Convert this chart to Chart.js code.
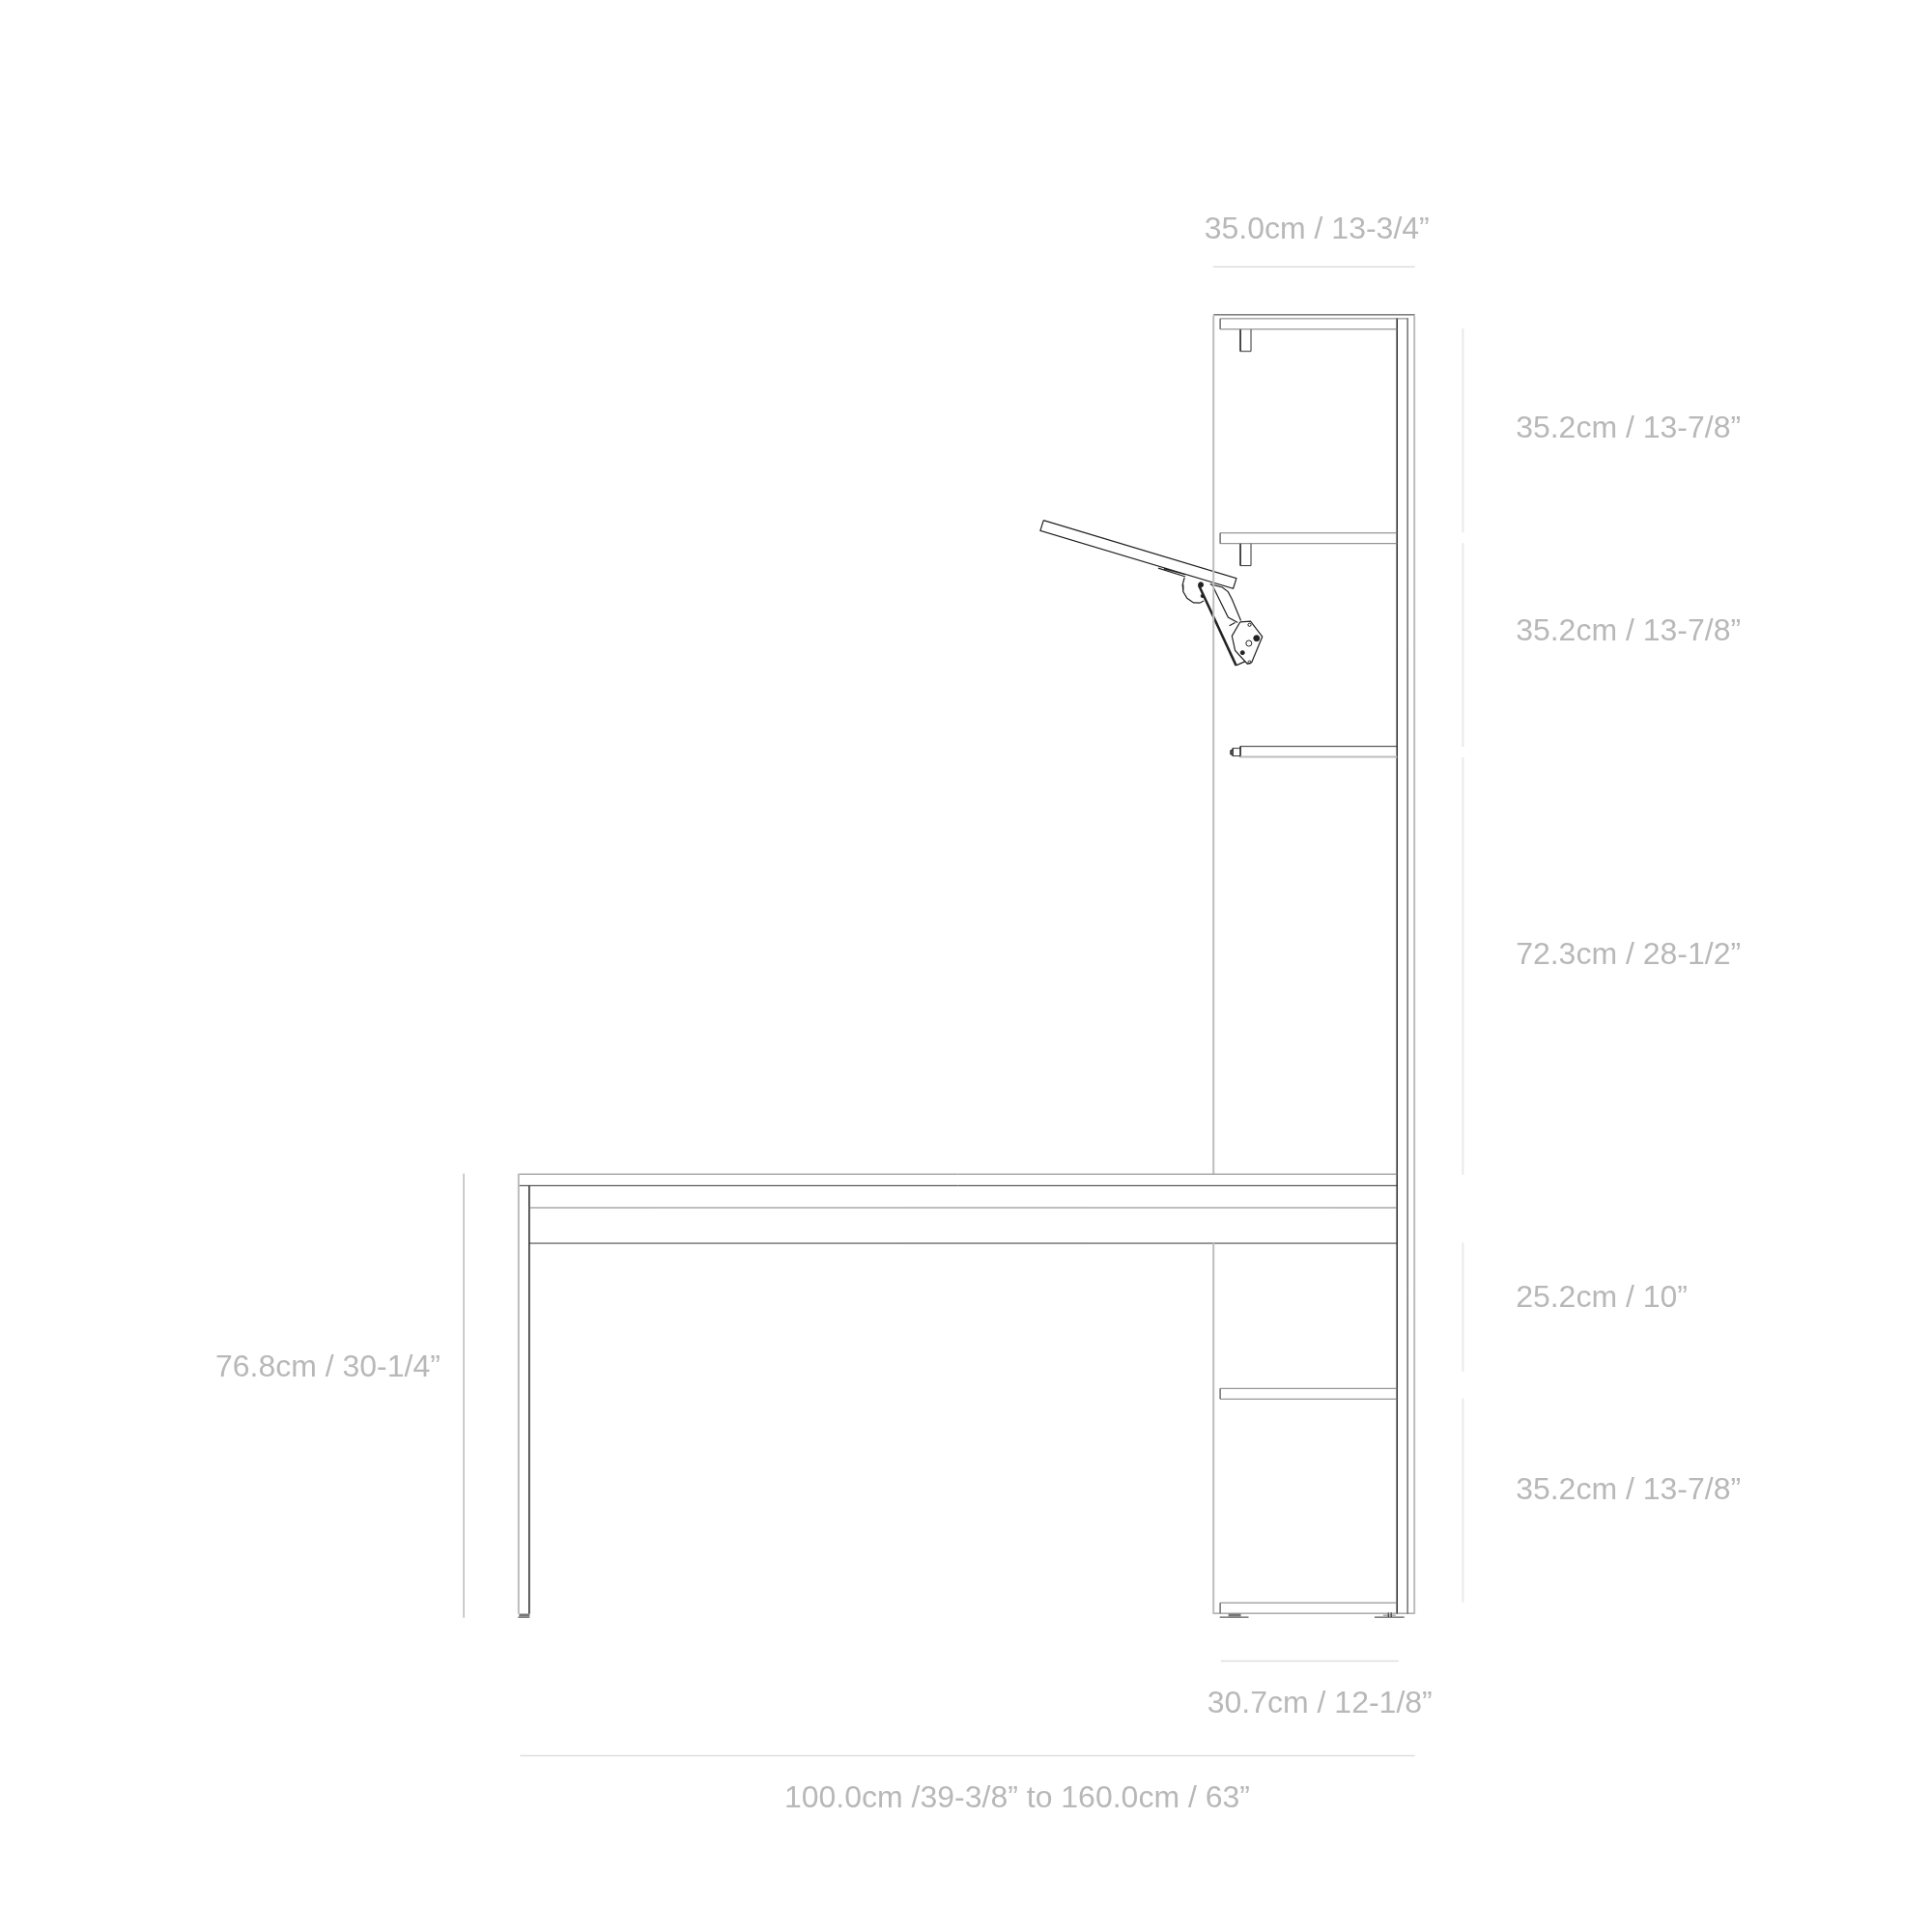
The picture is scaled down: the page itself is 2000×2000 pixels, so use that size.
<!DOCTYPE html>
<html>
<head>
<meta charset="utf-8">
<style>
  html, body { margin: 0; padding: 0; background: #fff; }
  canvas { display: block; }
</style>
<script src="https://cdn.jsdelivr.net/npm/chart.js@4/dist/chart.umd.min.js"></script>
</head>
<body>
<canvas id="drawing" width="2000" height="2000"></canvas>
<script>
// Every mark is a polyline of [x, y] in drawing units (the 0-2000 axes below)
const darkLines = [
    [[1257.5, 322.5], [1467, 322.5]],
    [[1448.5, 326], [1448.5, 1674]],
    [[534, 1228.5], [1448.5, 1228.5]],
    [[545.5, 1228.5], [545.5, 1674]],
    [[545.5, 1288.5], [1448.5, 1288.5]],
    [[1285.5, 771.5], [1448.5, 771.5]],
    [[1285.5, 771.5], [1285.5, 782.5]],
    [[1285.5, 337.5], [1285.5, 360.5], [1296.5, 360.5], [1296.5, 337.5]],
    [[1285.5, 560.5], [1285.5, 583.5], [1296.5, 583.5], [1296.5, 560.5]],
    [[1285, 773.5], [1277.5, 773.5], [1277.5, 781.5], [1285, 781.5]],
    [[1277.5, 775.5], [1275.5, 775.5], [1275.5, 780], [1277.5, 780]],
    [[1264, 1677.5], [1294, 1677.5]],
    [[1425, 1677.5], [1456, 1677.5]],
    [[534, 1677.5], [546, 1677.5]],
    [[1439.5, 1673], [1439.5, 1677]],
    [[1442.5, 1673], [1442.5, 1677]]
];
const midLines = [
    [[1264.5, 326.5], [1459.5, 326.5]],
    [[1264.5, 326.5], [1264.5, 337.5]],
    [[1264.5, 337.5], [1448.5, 337.5]],
    [[1264.5, 549.5], [1448.5, 549.5]],
    [[1264.5, 549.5], [1264.5, 560.5]],
    [[1264.5, 560.5], [1448.5, 560.5]],
    [[534, 1216.5], [1448.5, 1216.5]],
    [[545.5, 1251.5], [1448.5, 1251.5]],
    [[1264.5, 1439.5], [1448.5, 1439.5]],
    [[1264.5, 1439.5], [1264.5, 1450.5]],
    [[1264.5, 1450.5], [1448.5, 1450.5]],
    [[1264.5, 1662.5], [1448.5, 1662.5]],
    [[1264.5, 1662.5], [1264.5, 1673.5]],
    [[1257, 1673.5], [1467, 1673.5]],
    [[1459.5, 326], [1459.5, 1674]],
    [[1434, 1675.5], [1447, 1675.5]]
];
const lightLines = [
    [[1257.5, 323], [1257.5, 1216]],
    [[1257.5, 1288], [1257.5, 1674]],
    [[1466.5, 323], [1466.5, 1674]],
    [[534.5, 1216], [534.5, 1674]],
    [[1285.5, 782.5], [1448.5, 782.5]]
];
const footBands = [
    [[535, 1675.5], [546, 1675.5]],
    [[1273, 1675.5], [1286, 1675.5]]
];
const verticalGuides = [
    [[1517, 337], [1517, 549]],
    [[1517, 560], [1517, 772]],
    [[1517, 783], [1517, 1217]],
    [[1517, 1288], [1517, 1422]],
    [[1517, 1450], [1517, 1662]]
];
const horizontalGuides = [
    [[1257, 272.5], [1467, 272.5]],
    [[1265, 1723], [1450, 1723]],
    [[536, 1821.5], [1467, 1821.5]]
];
const heightGuide = [
    [[477.5, 1216], [477.5, 1678]]
];

// Tilted panel and its hinge
const panelLines = [
    [[1080.7, 536.3], [1281.3, 596.7], [1278, 607.3], [1077.3, 547], [1080.7, 536.3]],
    [[1200, 586], [1228.3, 595]],
    [[1206, 586.7], [1228, 592.7]],
    [[1227.3, 596], [1225.3, 603.3], [1226, 610.7], [1230, 617.3], [1236.7, 622], [1243.3, 622.3], [1247.3, 620]],
    [[1254, 602.7], [1266.7, 606], [1272.7, 610.7], [1276.7, 618.3], [1286, 640.7]],
    [[1256, 603.3], [1272.7, 637.3], [1282.7, 642.7]],
    [[1274, 646], [1280, 642.7]],
    [[1285.3, 642], [1296, 641.3], [1308.3, 657.3], [1297.3, 684], [1292.7, 685.7], [1280, 671.7], [1276.7, 656.7], [1285.3, 642]],
    [[1281, 687.3], [1290, 683.3]]
];
const hingeArm = [
    [[1242.3, 604], [1281, 687.3]]
];
const solidHoles = [[1302.3, 659], [1287.7, 674], [1244.3, 603.3], [1246, 615]];
const solidHoleRadii = [3, 2, 2.5, 1.6];
const ringHoles = [[1294.3, 664.3], [1295, 645], [1295, 684]];
const ringHoleRadii = [3, 1.6, 1.6];

// Dimension labels
const labelTexts = [
    '35.0cm / 13-3/4”',
    '35.2cm / 13-7/8”',
    '35.2cm / 13-7/8”',
    '72.3cm / 28-1/2”',
    '25.2cm / 10”',
    '35.2cm / 13-7/8”',
    '76.8cm / 30-1/4”',
    '30.7cm / 12-1/8”',
    '100.0cm /39-3/8” to 160.0cm / 63”'
];
const labelX = [1248, 1572, 1572, 1572, 1572, 1572, 219, 1251, 811];
const labelY = [243, 450, 661, 998, 1355, 1555, 1427, 1777, 1875];

// polylines -> one dataset with gaps between them
function flatten(lines) {
    const pts = [];
    lines.forEach(line => {
        line.forEach(p => pts.push({ x: p[0], y: p[1] }));
        pts.push({ x: null, y: null });
    });
    return pts;
}

function lineSet(lines, color, width) {
    return {
        data: flatten(lines),
        showLine: true,
        spanGaps: false,
        borderColor: color,
        borderWidth: width,
        pointRadius: 0,
        tension: 0
    };
}

function holeSet(points, radii, fill, border) {
    return {
        data: points.map(p => ({ x: p[0], y: p[1] })),
        showLine: false,
        pointRadius: radii,
        pointBackgroundColor: fill,
        pointBorderColor: border,
        pointBorderWidth: 1
    };
}

const labelPlugin = {
    id: 'dimensionLabels',
    afterDatasetsDraw(chart) {
        const ctx = chart.ctx;
        ctx.save();
        ctx.font = '32px "Liberation Sans"';
        ctx.fillStyle = '#b8b8b8';
        ctx.textAlign = 'left';
        ctx.textBaseline = 'alphabetic';
        labelTexts.forEach((text, i) => {
            ctx.fillText(text, chart.scales.x.getPixelForValue(labelX[i]), chart.scales.y.getPixelForValue(labelY[i]));
        });
        ctx.restore();
    }
};

new Chart(document.getElementById('drawing'), {
    type: 'scatter',
    data: {
        datasets: [
            lineSet(verticalGuides, '#e9e9e9', 2),
            lineSet(horizontalGuides, '#dedede', 1.5),
            lineSet(heightGuide, '#c4c4c4', 1),
            lineSet(lightLines, '#bdbdbd', 2),
            lineSet(midLines, '#7d7d7d', 1),
            lineSet(footBands, '#777', 3),
            lineSet(darkLines, '#333', 1),
            lineSet(panelLines, '#222', 1.2),
            lineSet(hingeArm, '#222', 2.5),
            holeSet(ringHoles, ringHoleRadii, '#fff', '#222'),
            holeSet(solidHoles, solidHoleRadii, '#222', '#222')
        ]
    },
    options: {
        responsive: false,
        animation: false,
        devicePixelRatio: 1,
        layout: { padding: 0 },
        plugins: { legend: { display: false }, tooltip: { enabled: false } },
        scales: {
            x: { type: 'linear', min: 0, max: 2000, display: false },
            y: { type: 'linear', min: 0, max: 2000, reverse: true, display: false }
        }
    },
    plugins: [labelPlugin]
});
</script>
</body>
</html>
